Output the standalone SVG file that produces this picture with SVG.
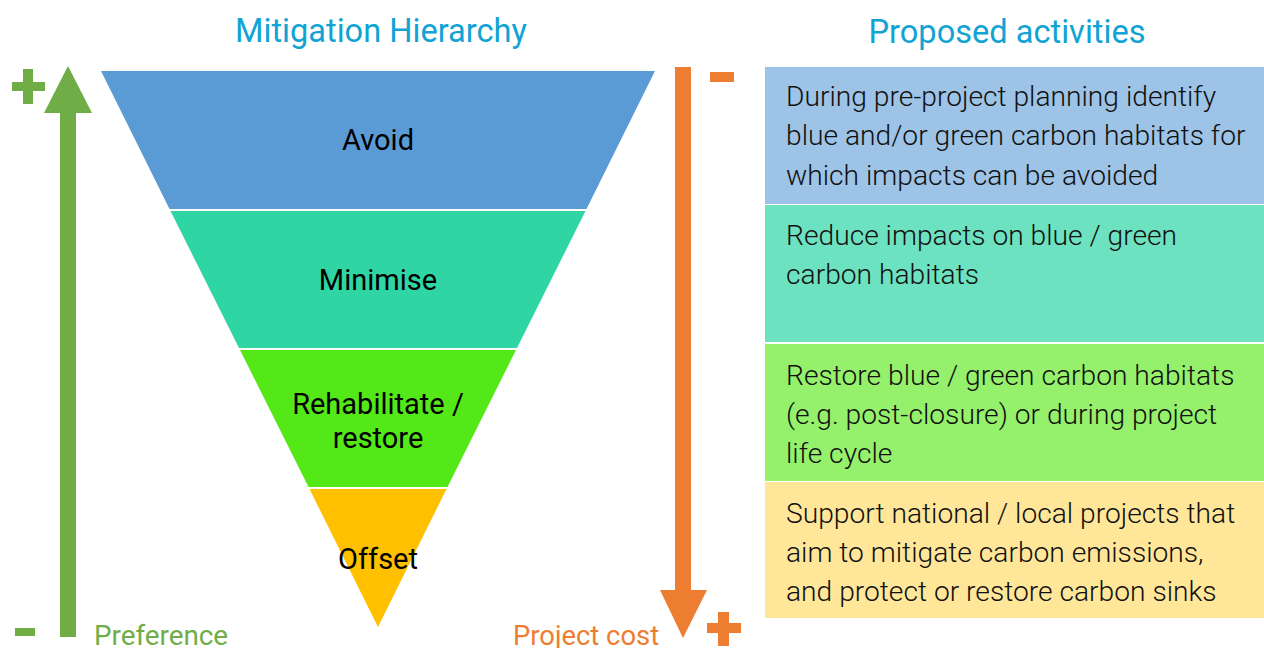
<svg xmlns="http://www.w3.org/2000/svg" width="1264" height="648" viewBox="0 0 1264 648">
<style>
.t{font-family:Roboto,"Liberation Sans",sans-serif}
.lbl{font-size:29px;fill:#000;text-anchor:middle}
.box{font-size:28.2px;font-weight:300;fill:#111}
.title{font-size:32.6px;fill:#10A3D4;text-anchor:middle}
</style>
<rect width="1264" height="648" fill="#fff"/>
<text class="t title" x="381" y="42">Mitigation Hierarchy</text>
<text class="t title" x="1007" y="43">Proposed activities</text>

<g id="avoid">
<polygon points="101,71 655,71 586.5,209 169.5,209" fill="#5B9BD5"/>
<text class="t lbl" x="378" y="150">Avoid</text>
</g>
<g id="minimise">
<polygon points="170.5,211 585.5,211 517,348 239,348" fill="#2FD6A4"/>
<text class="t lbl" x="378" y="290">Minimise</text>
</g>
<g id="rehabilitate">
<polygon points="240,350 516,350 447.5,487 308.5,487" fill="#55E819"/>
<text class="t lbl" x="378" y="414">Rehabilitate /</text>
<text class="t lbl" x="378" y="448">restore</text>
</g>
<g id="offset">
<polygon points="309.5,489 446.5,489 378,627" fill="#FFC000"/>
<text class="t lbl" x="378" y="569">Offset</text>
</g>

<g id="connectors">
<g id="preference-arrow" fill="#70AD47">
<rect x="60" y="110" width="16" height="527"/>
<polygon points="68,66 92,113 44,113"/>
<rect x="12" y="82" width="33" height="9"/>
<rect x="23" y="69" width="10" height="35"/>
<rect x="15" y="628" width="20" height="8"/>
<text class="t" x="94" y="645" font-size="27.8">Preference</text>
</g>
<g id="cost-arrow" fill="#ED7D31">
<rect x="675" y="67" width="16" height="526"/>
<polygon points="660,590 707,590 683,638"/>
<rect x="710" y="72" width="24" height="10"/>
<rect x="707" y="623" width="34" height="10"/>
<rect x="718" y="612" width="11" height="34"/>
<text class="t" x="513" y="645" font-size="27.4">Project cost</text>
</g>
</g>

<g id="act-avoid">
<rect x="765" y="67" width="499" height="137" fill="#9DC3E6"/>
<text class="t box" x="786" y="106">During pre-project planning identify</text>
<text class="t box" x="786" y="145">blue and/or green carbon habitats for</text>
<text class="t box" x="786" y="185">which impacts can be avoided</text>
</g>
<g id="act-minimise">
<rect x="765" y="205" width="499" height="137" fill="#6DE2C0"/>
<text class="t box" x="786" y="245">Reduce impacts on blue / green</text>
<text class="t box" x="786" y="284">carbon habitats</text>
</g>
<g id="act-restore">
<rect x="765" y="344" width="499" height="137" fill="#95F06B"/>
<text class="t box" x="786" y="385">Restore blue / green carbon habitats</text>
<text class="t box" x="786" y="424">(e.g. post-closure) or during project</text>
<text class="t box" x="786" y="463">life cycle</text>
</g>
<g id="act-offset">
<rect x="765" y="482" width="499" height="136" fill="#FFE699"/>
<text class="t box" x="786" y="523">Support national / local projects that</text>
<text class="t box" x="786" y="562">aim to mitigate carbon emissions,</text>
<text class="t box" x="786" y="601">and protect or restore carbon sinks</text>
</g>
</svg>
